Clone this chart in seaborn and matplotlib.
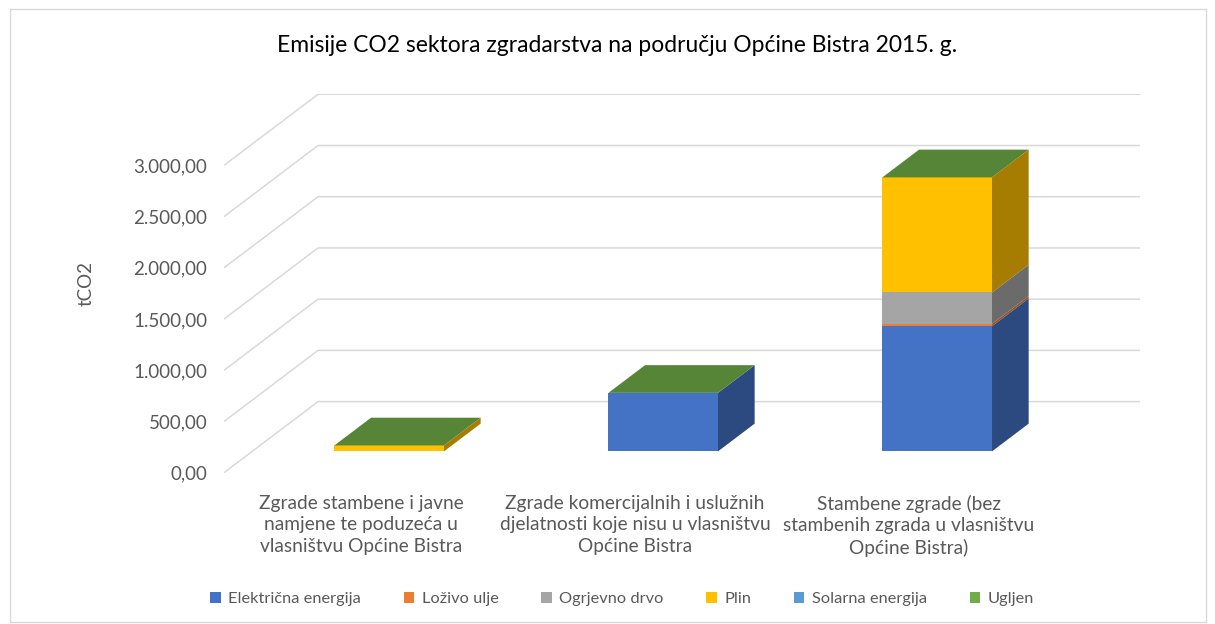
import numpy as np
import matplotlib.pyplot as plt
import seaborn as sns
from matplotlib.colors import to_rgb
from matplotlib.patches import Patch, Rectangle

# podaci (tCO2)
categories = [
    "Zgrade stambene i javne\nnamjene te poduzeća u\nvlasništvu Općine Bistra",
    "Zgrade komercijalnih i uslužnih\ndjelatnosti koje nisu u vlasništvu\nOpćine Bistra",
    "Stambene zgrade (bez\nstambenih zgrada u vlasništvu\nOpćine Bistra)",
]
series = ["Električna energija", "Loživo ulje", "Ogrjevno drvo", "Plin",
          "Solarna energija", "Ugljen"]
elektricna = [0, 571, 1222]
lozivo_ulje = [0, 0, 23]
ogrjevno_drvo = [0, 0, 306]
plin = [58, 0, 1124]
solarna = [0, 0, 0]
ugljen = [0, 0, 0]
yticks = [0, 500, 1000, 1500, 2000, 2500, 3000]

colors = ["#4472C4", "#ED7D31", "#A5A5A5", "#FFC000", "#5B9BD5", "#70AD47"]
values = [elektricna, lozivo_ulje, ogrjevno_drvo, plin, solarna, ugljen]

sns.set_theme(style="white")
plt.rcParams["font.family"] = ["Lato", "DejaVu Sans"]

# 3D (kosa projekcija)
depth_x = 0.343
depth_y = 694
front = 0.30
back = 0.69
width = 0.40


def shade(c, f):
    return tuple(np.array(to_rgb(c)) * f)


def fmt(v):
    s = f"{v:,.2f}"
    return s.replace(",", "X").replace(".", ",").replace("X", ".")


fig = plt.figure(figsize=(12.15, 6.24), dpi=100)
ax = fig.add_axes([224 / 1215, 1 - 472.7 / 624, 916 / 1215, 378.4 / 624])
ax.set_xlim(-0.5, 2.5 + depth_x)
ax.set_ylim(0, yticks[-1] + depth_y)

# mreža (stražnji zid)
for t in yticks:
    ax.plot([-0.5, -0.5 + depth_x, 2.5 + depth_x], [t, t + depth_y, t + depth_y],
            color="#D9D9D9", lw=1.1, zorder=0, solid_capstyle="butt")

fx, fy = front * depth_x, front * depth_y
bx, by = (back - front) * depth_x, (back - front) * depth_y

for i in range(len(categories)):
    bottom = 0
    for s, vals in enumerate(values):
        v = vals[i]
        if v > 0:
            ax.bar(i + fx, v, width=width, bottom=bottom + fy, color=colors[s],
                   linewidth=0, zorder=2)
            xr = i + fx + width / 2
            y0 = bottom + fy
            ax.fill([xr, xr + bx, xr + bx, xr],
                    [y0, y0 + by, y0 + v + by, y0 + v],
                    color=shade(colors[s], 0.65), lw=0, zorder=2)
        bottom += v
    xl = i + fx - width / 2
    xr = i + fx + width / 2
    yt = bottom + fy
    ax.fill([xl, xr, xr + bx, xl + bx], [yt, yt, yt + by, yt + by],
            color=shade(colors[-1], 0.77), lw=0, zorder=3)

ax.set_yticks(yticks)
ax.set_yticklabels([fmt(t) for t in yticks])
ax.set_xticks(range(len(categories)))
ax.set_xticklabels(categories, linespacing=1.32)
ax.tick_params(axis="y", length=0, pad=12, labelsize=13.5, labelcolor="#595959")
ax.tick_params(axis="x", length=0, pad=16, labelsize=13.8, labelcolor="#595959")
for sp in ax.spines.values():
    sp.set_visible(False)

ax.set_ylabel("tCO2", fontsize=13.5, color="#595959", labelpad=28)

fig.text(0.508, 0.927, "Emisije CO2 sektora zgradarstva na području Općine Bistra 2015. g.",
         ha="center", va="center", fontsize=16.5, color="#000000")

handles = [Patch(facecolor=c, edgecolor="none") for c in colors]
fig.legend(handles, series, loc="center", bbox_to_anchor=(0.512, 0.04), ncol=6,
           frameon=False, fontsize=11.8, handlelength=0.65, handleheight=0.65,
           handletextpad=0.45, columnspacing=2.6, labelcolor="#595959")

fig.patches.append(Rectangle((0.008, 0.004), 0.985, 0.982, transform=fig.transFigure,
                             fill=False, edgecolor="#D9D9D9", lw=1))

fig.savefig("out.png", dpi=100)
